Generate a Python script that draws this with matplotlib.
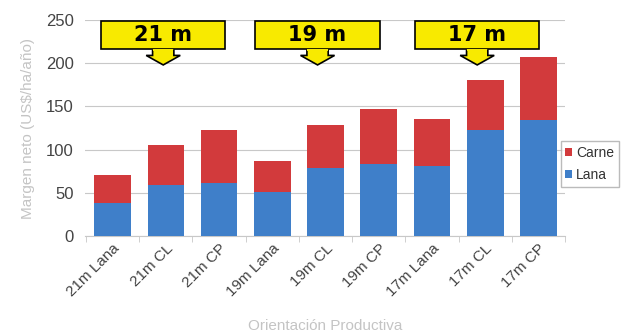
import matplotlib
matplotlib.use("Agg")
import matplotlib.pyplot as plt
from matplotlib.patches import Polygon, Rectangle

plt.rcParams["font.family"] = ["Liberation Sans", "DejaVu Sans"]

categories = ["21m Lana", "21m CL", "21m CP", "19m Lana", "19m CL", "19m CP",
              "17m Lana", "17m CL", "17m CP"]
lana = [38, 59, 61, 51, 79, 83, 81, 123, 134]
carne = [33, 46, 62, 36, 49, 64, 54, 57, 73]
groups = ["21 m", "19 m", "17 m"]
group_pos = [0.95, 3.85, 6.85]

RED = "#d23a3c"
BLUE = "#3f7fc9"

fig = plt.figure(figsize=(6.25, 3.33), dpi=100)
ax = fig.add_axes([0.136, 0.291, 0.768, 0.649])

x = list(range(len(categories)))
b_lana = ax.bar(x, lana, width=0.69, color=BLUE, label="Lana", zorder=3)
b_carne = ax.bar(x, carne, width=0.69, bottom=lana, color=RED, label="Carne", zorder=3)

ax.set_xlim(-0.52, 8.48)
ax.set_ylim(0, 250)
ax.set_yticks([0, 50, 100, 150, 200, 250])
ax.yaxis.grid(True, color="#c8c8c8", lw=0.8, zorder=0)
for s in ("left", "right", "top"):
    ax.spines[s].set_visible(False)
ax.spines["bottom"].set_color("#c8c8c8")
ax.tick_params(axis="y", length=0, labelsize=12, labelcolor="#444444", pad=8)
ax.set_xticks(x)
ax.set_xticklabels(categories, rotation=45, ha="right", rotation_mode="anchor",
                   fontsize=11, color="#444444")
ax.tick_params(axis="x", length=0, pad=4)
# small separators between categories on the base line
ax.set_xticks([i + 0.5 for i in range(-1, len(categories))], minor=True)
ax.tick_params(axis="x", which="minor", length=4, color="#c8c8c8")

ax.set_ylabel("Margen neto (US$/ha/año)", color="#c4c4c4", fontsize=11, labelpad=8)
ax.set_xlabel("Orientación Productiva", color="#c4c4c4", fontsize=11, labelpad=14)

# yellow callouts naming each group
for label, cx in zip(groups, group_pos):
    ax.add_patch(Rectangle((cx - 1.17, 216), 2.34, 33, facecolor="#f8ea00",
                           edgecolor="black", lw=1.2, zorder=5, clip_on=False))
    ax.add_patch(Polygon([(cx - 0.2, 216), (cx - 0.2, 209), (cx - 0.32, 209),
                          (cx, 198), (cx + 0.32, 209), (cx + 0.2, 209), (cx + 0.2, 216)],
                         closed=False, facecolor="#f8ea00", edgecolor="black",
                         lw=1.2, zorder=6, clip_on=False))
    ax.add_patch(Rectangle((cx - 0.19, 214), 0.38, 3, facecolor="#f8ea00",
                           edgecolor="none", zorder=7, clip_on=False))
    ax.text(cx, 232.5, label, ha="center", va="center", fontsize=15,
            fontweight="bold", color="black", zorder=8,
            family=["DejaVu Sans"])

leg = ax.legend([b_carne, b_lana], ["Carne", "Lana"], loc="center left",
                bbox_to_anchor=(0.985, 0.335), fontsize=10,
                handlelength=0.5, handleheight=0.5, handletextpad=0.25,
                frameon=True, fancybox=False, borderpad=0.35, labelspacing=0.6,
                borderaxespad=0.2)
leg.get_frame().set_edgecolor("#aaaaaa")
for t in leg.get_texts():
    t.set_color("#333333")

fig.savefig("out.png", dpi=100)
